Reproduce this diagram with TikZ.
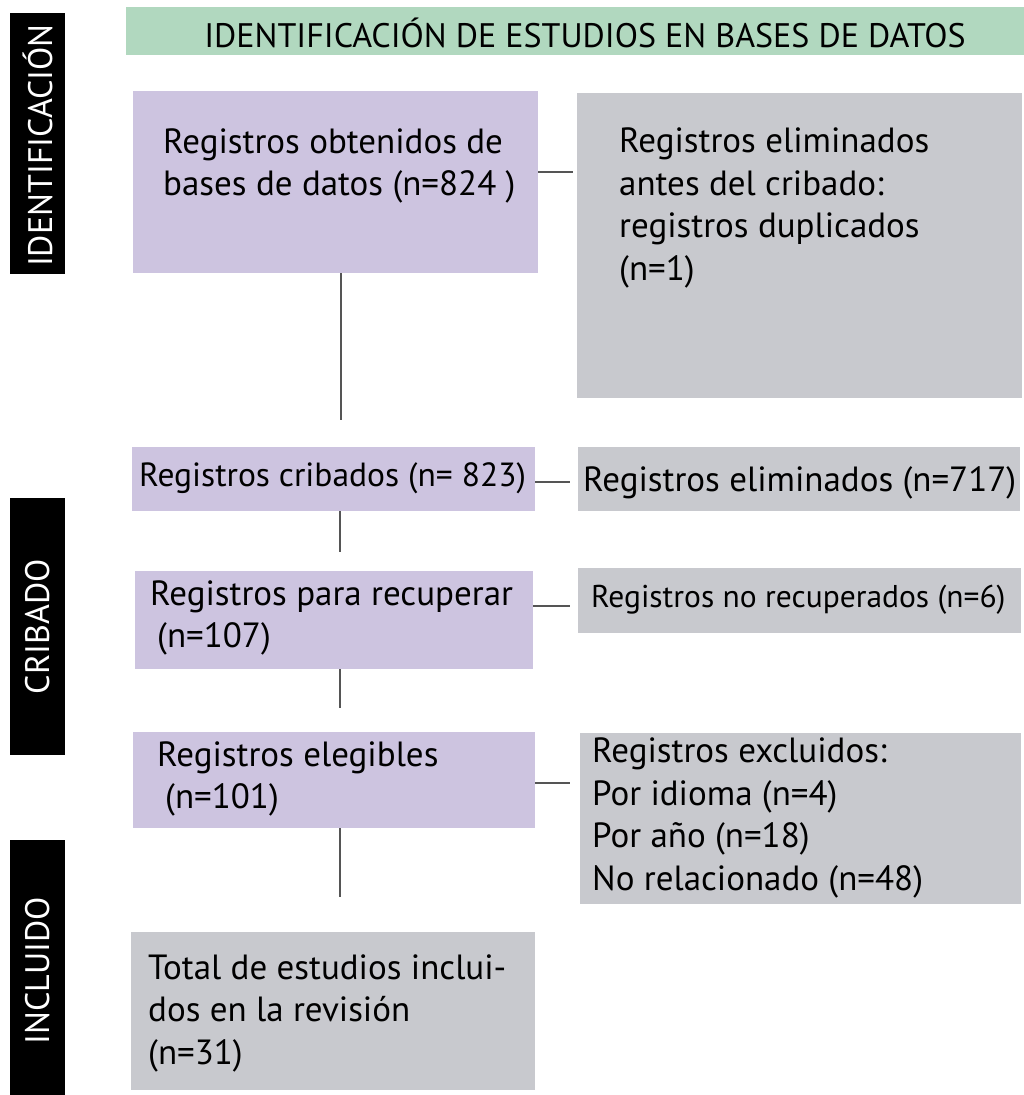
\documentclass[tikz,border=0pt]{standalone}
\usepackage{fontspec}
\setmainfont{PT Sans}
\definecolor{lila}{HTML}{CDC4E0}
\definecolor{gris}{HTML}{C8C9CE}
\definecolor{verde}{HTML}{B1D8BF}
\definecolor{linea}{HTML}{555555}
\begin{document}
\begin{tikzpicture}[x=1pt,y=-1pt,
  box/.style={draw=none,inner sep=0,anchor=north west},
  purp/.style={box,fill=lila},
  grey/.style={box,fill=gris},
  txt/.style={inner sep=0,anchor=west,align=left,font=\fontsize{35}{42.5}\selectfont},
  small/.style={txt,font=\fontsize{31.5}{40}\selectfont},
  bar/.style={box,fill=black},
  bartxt/.style={text=white,rotate=90,inner sep=0,font=\fontsize{34}{40}\selectfont},
  conn/.style={draw=linea,line width=1.3pt}]
\useasboundingbox (0,0) rectangle (1024,1095);
% phase bars
\node[bar,minimum width=55,minimum height=261] (bid) at (10,13) {};
\node[bartxt] (tid) at ([yshift=-2]bid.center) {IDENTIFICACIÓN};
\node[bar,minimum width=55,minimum height=257] (bcr) at (10,498) {};
\node[bartxt] (tcr) at (bcr.center) {CRIBADO};
\node[bar,minimum width=55,minimum height=255] (bin) at (10,840) {};
\node[bartxt] (tin) at ([yshift=-3]bin.center) {INCLUIDO};
% banner
\node[box,fill=verde,minimum width=898,minimum height=48] (ban) at (126,7) {};
\node[inner sep=0,font=\fontsize{34}{40}\selectfont] (tban) at (585,33) {IDENTIFICACIÓN DE ESTUDIOS EN BASES DE DATOS};
% boxes
\node[purp,minimum width=405,minimum height=182] (b1) at (133,91) {};
\node[txt] (t1) at (163,166) {Registros obtenidos de\\bases de datos (n=824 )};
\node[grey,minimum width=445,minimum height=305] (g1) at (577,93) {};
\node[txt] (tg1) at (619,208) {Registros eliminados\\antes del cribado:\\registros duplicados\\(n=1)};
\node[purp,minimum width=403,minimum height=64] (b2) at (132,447) {};
\node[txt,font=\fontsize{33.5}{42.5}\selectfont] (t2) at (139,478) {Registros cribados (n= 823)};
\node[grey,minimum width=442,minimum height=64] (g2) at (578,447) {};
\node[txt] (tg2) at (583,483) {Registros eliminados (n=717)};
\node[purp,minimum width=398,minimum height=98] (b3) at (135,571) {};
\node[txt] (t3) at (150,618) {Registros para recuperar\\\hspace*{7pt}(n=107)};
\node[grey,minimum width=443,minimum height=65] (g3) at (578,568) {};
\node[small] (tg3) at (591,600) {Registros no recuperados (n=6)};
\node[purp,minimum width=402,minimum height=96] (b4) at (133,732) {};
\node[txt] (t4) at (157,779) {Registros elegibles\\\hspace*{8pt}(n=101)};
\node[grey,minimum width=441,minimum height=171] (g4) at (580,733) {};
\node[txt] (tg4) at (592,818) {Registros excluidos:\\Por idioma (n=4)\\Por año (n=18)\\No relacionado (n=48)};
\node[grey,minimum width=404,minimum height=158] (b5) at (131,932) {};
\node[txt] (t5) at (148,1013) {Total de estudios inclui-\\dos en la revisión\\(n=31)};
% connectors
\draw[conn] (b1.east |- 0,172) -- ([xshift=-4]g1.west |- 0,172);
\draw[conn] (b1.south -| 341,0) -- ([yshift=27]b2.north -| 341,0);
\draw[conn] (b2.east |- 0,482) -- ([xshift=-8]g2.west |- 0,482);
\draw[conn] (b2.south -| 340,0) -- ([yshift=19]b3.north -| 340,0);
\draw[conn] (b3.east |- 0,606) -- ([xshift=-8]g3.west |- 0,606);
\draw[conn] (b3.south -| 340,0) -- ([yshift=24]b4.north -| 340,0);
\draw[conn] (b4.east |- 0,783) -- ([xshift=-10]g4.west |- 0,783);
\draw[conn] (b4.south -| 340,0) -- ([yshift=35]b5.north -| 340,0);
\end{tikzpicture}
\end{document}
